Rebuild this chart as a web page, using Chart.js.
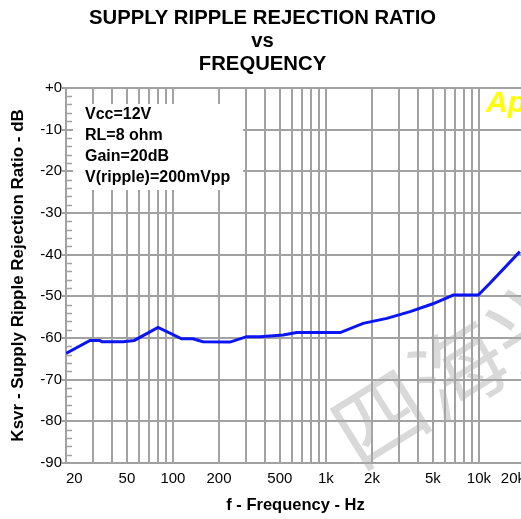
<!DOCTYPE html>
<html>
<head>
<meta charset="utf-8">
<script src="https://cdn.jsdelivr.net/npm/chart.js@4/dist/chart.umd.min.js"></script>
<style>
  html, body { margin: 0; padding: 0; background: #fff; overflow: hidden; }
  #wrap { position: relative; width: 560px; height: 519px; }
</style>
</head>
<body>
<div id="wrap"><canvas id="c" width="560" height="519"></canvas></div>
<script>
// ---- data ----
const freqHz = [20, 28.7, 33.3, 34.3, 47.3, 55.9, 79.9, 114, 135, 157, 236, 303, 371, 526, 644, 1240, 1750, 2500, 3550, 5000, 6800, 9900, 11800, 18500];
const ksvrDb = [-63.7, -60.6, -60.6, -60.9, -60.9, -60.6, -57.5, -60.2, -60.2, -60.9, -61.0, -59.7, -59.7, -59.3, -58.7, -58.7, -56.5, -55.3, -53.7, -51.8, -49.7, -49.7, -46.9, -39.3];
const xGridValues = [20,30,40,50,60,70,80,90,100,200,300,400,500,600,700,800,900,1000,2000,3000,4000,5000,6000,7000,8000,9000,10000,20000];
const xTickLabels = {20:'20',50:'50',100:'100',200:'200',500:'500',1000:'1k',2000:'2k',5000:'5k',10000:'10k',20000:'20k'};
const yTickValues = [0,-10,-20,-30,-40,-50,-60,-70,-80,-90];
const yMinorValues = [-2,-4,-6,-8,-12,-14,-16,-18,-22,-24,-26,-28,-32,-34,-36,-38,-42,-44,-46,-48,-52,-54,-56,-58,-62,-64,-66,-68,-72,-74,-76,-78,-82,-84,-86,-88];
const titleLines = ['SUPPLY RIPPLE REJECTION RATIO', 'vs', 'FREQUENCY'];
const noteLines = ['Vcc=12V', 'RL=8 ohm', 'Gain=20dB', 'V(ripple)=200mVpp'];
const xTitle = 'f - Frequency - Hz';
const yTitle = 'Ksvr - Supply Ripple Rejection Ratio - dB';
const logoText = 'Ap';
const watermarkText = '四海兴';

const GRID = '#a2a2a2';
const FONT = '"Liberation Sans", Arial, sans-serif';

const extras = {
  id: 'extras',
  beforeDatasetsDraw(chart) {
    const ctx = chart.ctx;
    ctx.save();
    ctx.fillStyle = '#ffffff';
    ctx.fillRect(73, 104, 170, 86);
    ctx.fillStyle = '#000';
    ctx.font = 'bold 16px ' + FONT;
    ctx.textAlign = 'left';
    ctx.textBaseline = 'middle';
    noteLines.forEach((t, i) => ctx.fillText(t, 85, 115 + i * 20.8));
    ctx.restore();
  },
  afterDraw(chart) {
    const ctx = chart.ctx;
    const ys = chart.scales.y;
    const left = chart.chartArea.left;
    ctx.save();
    // minor ticks inside the plot
    ctx.strokeStyle = GRID;
    ctx.lineWidth = 1.5;
    ctx.beginPath();
    yMinorValues.forEach(v => {
      const y = Math.round(ys.getPixelForValue(v)) + 0.5;
      ctx.moveTo(left, y);
      ctx.lineTo(left + 6, y);
    });
    ctx.stroke();
    // logo
    ctx.fillStyle = '#ffff00';
    ctx.font = 'italic bold 30px ' + FONT;
    ctx.textAlign = 'left';
    ctx.textBaseline = 'alphabetic';
    ctx.fillText(logoText, 486, 112);
    // watermark
    ctx.translate(380, 418);
    ctx.rotate(-32 * Math.PI / 180);
    ctx.fillStyle = 'rgba(170,170,170,0.45)';
    ctx.font = '92px "Noto Sans CJK SC"';
    ctx.textAlign = 'left';
    ctx.textBaseline = 'middle';
    ctx.fillText(watermarkText, -46, 0);
    ctx.restore();
  }
};

new Chart(document.getElementById('c'), {
  type: 'line',
  data: {
    datasets: [{
      data: freqHz.map((f, i) => ({ x: f, y: ksvrDb[i] })),
      borderColor: '#0a14f5',
      borderWidth: 3,
      pointRadius: 0,
      tension: 0,
      fill: false
    }]
  },
  options: {
    responsive: false,
    animation: false,
    layout: { padding: { left: 0, right: 35, top: 0, bottom: 0 } },
    plugins: {
      legend: { display: false },
      tooltip: { enabled: false },
      title: {
        display: true,
        text: titleLines,
        color: '#000',
        font: { family: FONT, size: 20.3, weight: 'bold', lineHeight: 1.13 },
        padding: { top: 7, bottom: 12 }
      }
    },
    scales: {
      x: {
        type: 'logarithmic',
        min: 20,
        max: 20000,
        afterBuildTicks: (s) => { s.ticks = xGridValues.map(v => ({ value: v })); },
        afterFit: (s) => { s.height = 56; },
        ticks: {
          autoSkip: false,
          maxRotation: 0,
          minRotation: 0,
          align: 'inner',
          padding: 7,
          color: '#000',
          font: { family: FONT, size: 15 },
          callback: (v) => xTickLabels[v] || ''
        },
        grid: { color: GRID, lineWidth: 2, drawTicks: false },
        border: { color: GRID, width: 2 },
        title: {
          display: true,
          text: xTitle,
          color: '#000',
          font: { family: FONT, size: 16.5, weight: 'bold' },
          padding: { top: 0, bottom: 4 }
        }
      },
      y: {
        type: 'linear',
        min: -90,
        max: 0,
        afterBuildTicks: (s) => { s.ticks = yTickValues.map(v => ({ value: v })); },
        afterFit: (s) => { s.width = 66; },
        ticks: {
          padding: 0,
          color: '#000',
          font: { family: FONT, size: 15 },
          callback: (v) => (v === 0 ? '+0' : String(v))
        },
        grid: { color: GRID, lineWidth: 2, tickLength: 4, tickColor: GRID },
        border: { color: GRID, width: 2 },
        title: {
          display: true,
          text: yTitle,
          color: '#000',
          font: { family: FONT, size: 17, weight: 'bold' },
          padding: { top: 8, bottom: 0 }
        }
      }
    }
  },
  plugins: [extras]
});
</script>
</body>
</html>
